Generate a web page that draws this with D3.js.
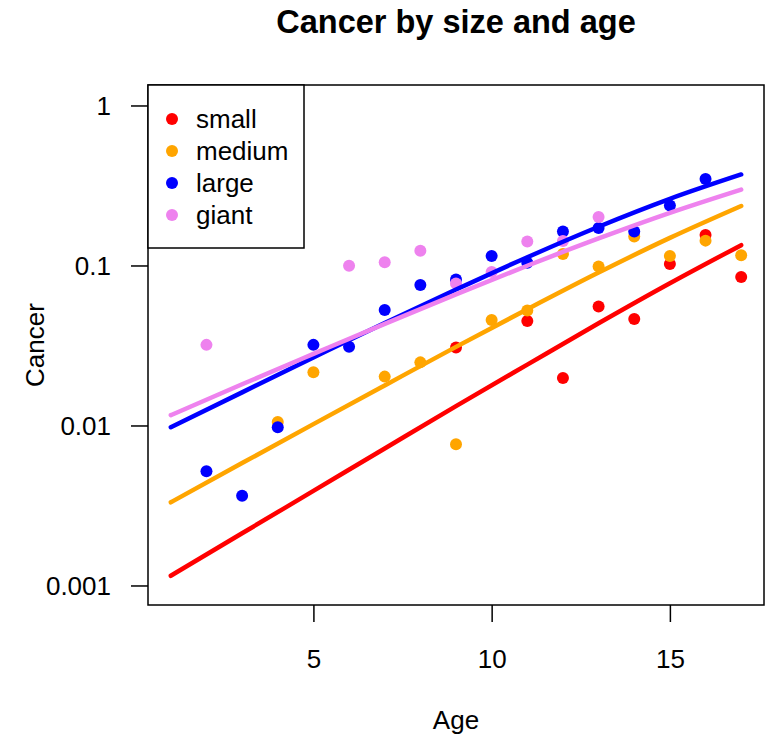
<!DOCTYPE html>
<html>
<head>
<meta charset="utf-8">
<script src="https://cdn.jsdelivr.net/npm/d3@7"></script>
<style>
  body { margin: 0; background: #fff; }
  text { font-family: "Liberation Sans", Arial, sans-serif; fill: #000; }
</style>
</head>
<body>
<svg class="chart"></svg>
<script>
var smallAge = [9, 11, 12, 13, 14, 15, 16, 17];
var smallRate = [0.0307, 0.045, 0.0198, 0.0554, 0.0463, 0.102, 0.155, 0.0848];

var mediumAge = [4, 5, 7, 8, 9, 10, 11, 12, 13, 14, 15, 16, 17];
var mediumRate = [0.0105, 0.0215, 0.0202, 0.0248, 0.00763, 0.0456, 0.0523, 0.118, 0.0986, 0.152, 0.1146, 0.143, 0.116];

var largeAge = [2, 3, 4, 5, 6, 7, 8, 9, 10, 11, 12, 13, 14, 15, 16];
var largeRate = [0.00517, 0.00364, 0.00975, 0.0319, 0.031, 0.0527, 0.0755, 0.0818, 0.1147, 0.104, 0.163, 0.1716, 0.163, 0.237, 0.347];

var giantAge = [2, 6, 7, 8, 9, 10, 11, 12, 13];
var giantRate = [0.0319, 0.0997, 0.1047, 0.1238, 0.0772, 0.0912, 0.141, 0.142, 0.201];

// fitted curves, sampled along age
var fitAge = [1, 3, 5, 7, 9, 11, 13, 15, 17];
var smallFit = [0.00115, 0.00212, 0.0039, 0.00718, 0.0132, 0.024, 0.0435, 0.0774, 0.134];
var mediumFit = [0.00331, 0.00582, 0.0102, 0.0178, 0.031, 0.0533, 0.0903, 0.1487, 0.2354];
var largeFit = [0.00975, 0.0161, 0.0266, 0.0437, 0.0707, 0.1126, 0.1747, 0.2609, 0.3705];
var giantFit = [0.0116, 0.0181, 0.028, 0.0432, 0.066, 0.0996, 0.1475, 0.2132, 0.298];

var sizes = ["small", "medium", "large", "giant"];
var colors = ["red", "orange", "blue", "violet"];

var xTicks = [5, 10, 15];
var yTicks = [0.001, 0.01, 0.1, 1];
var yTickLabels = ["0.001", "0.01", "0.1", "1"];

var W = 772, H = 738;
var margin = {top: 85, right: 8, bottom: 133, left: 148};
var width = W - margin.left - margin.right,
    height = H - margin.top - margin.bottom;

var svg = d3.select(".chart").attr("width", W).attr("height", H);
var chart = svg.append("g")
    .attr("transform", "translate(" + margin.left + "," + margin.top + ")");

var x = d3.scaleLinear().domain([0.36, 17.64]).range([0, width]);
var y = d3.scaleLog().domain([Math.pow(10, -3.122), Math.pow(10, 0.128)]).range([height, 0]);

var series = [
    {ages: smallAge, rates: smallRate, fit: smallFit},
    {ages: mediumAge, rates: mediumRate, fit: mediumFit},
    {ages: largeAge, rates: largeRate, fit: largeFit},
    {ages: giantAge, rates: giantRate, fit: giantFit}
];

// points first, fitted lines on top
series.forEach(function(s, i) {
    chart.append("g").selectAll("circle")
        .data(s.ages.map(function(a, j) { return [a, s.rates[j]]; }))
        .enter().append("circle")
        .attr("cx", function(d) { return x(d[0]); })
        .attr("cy", function(d) { return y(d[1]); })
        .attr("r", 6)
        .attr("fill", colors[i]);
});

var line = d3.line()
    .x(function(d) { return x(d[0]); })
    .y(function(d) { return y(d[1]); })
    .curve(d3.curveMonotoneX);

series.forEach(function(s, i) {
    chart.append("path")
        .datum(fitAge.map(function(a, j) { return [a, s.fit[j]]; }))
        .attr("d", line)
        .attr("fill", "none")
        .attr("stroke", colors[i])
        .attr("stroke-width", 4.5)
        .attr("stroke-linecap", "round");
});

// frame
chart.append("rect")
    .attr("width", width).attr("height", height)
    .attr("fill", "none").attr("stroke", "#000").attr("stroke-width", 1.5);

// axes
var xAxis = chart.append("g")
    .attr("transform", "translate(0," + height + ")")
    .call(d3.axisBottom(x).tickValues(xTicks).tickSize(17).tickPadding(28));
var yAxis = chart.append("g")
    .call(d3.axisLeft(y).tickValues(yTicks).tickSize(17).tickPadding(20)
        .tickFormat(function(d, i) { return yTickLabels[i]; }));

[xAxis, yAxis].forEach(function(a) {
    a.select(".domain").remove();
    a.selectAll("line").attr("stroke", "#000").attr("stroke-width", 1.5);
    a.selectAll("text").style("font-size", "26px");
});
yAxis.selectAll("text").attr("dy", "0.36em");

// titles
svg.append("text")
    .attr("x", margin.left + width / 2).attr("y", 33)
    .attr("text-anchor", "middle")
    .style("font-size", "32.5px").style("font-weight", "bold")
    .text("Cancer by size and age");

svg.append("text")
    .attr("x", margin.left + width / 2).attr("y", 729)
    .attr("text-anchor", "middle")
    .style("font-size", "26px")
    .text("Age");

svg.append("text")
    .attr("transform", "translate(44," + (margin.top + height / 2) + ") rotate(-90)")
    .attr("text-anchor", "middle")
    .style("font-size", "26px")
    .text("Cancer");

// legend
var legend = chart.append("g");
legend.append("rect")
    .attr("width", 156).attr("height", 163)
    .attr("fill", "#fff").attr("stroke", "#000").attr("stroke-width", 1.5);

var item = legend.selectAll(".item").data(sizes).enter().append("g")
    .attr("transform", function(d, i) { return "translate(0," + (34 + i * 32) + ")"; });
item.append("circle")
    .attr("cx", 24).attr("r", 6)
    .attr("fill", function(d, i) { return colors[i]; });
item.append("text")
    .attr("x", 48).attr("dy", "0.36em")
    .style("font-size", "26px")
    .text(function(d) { return d; });
</script>
</body>
</html>
